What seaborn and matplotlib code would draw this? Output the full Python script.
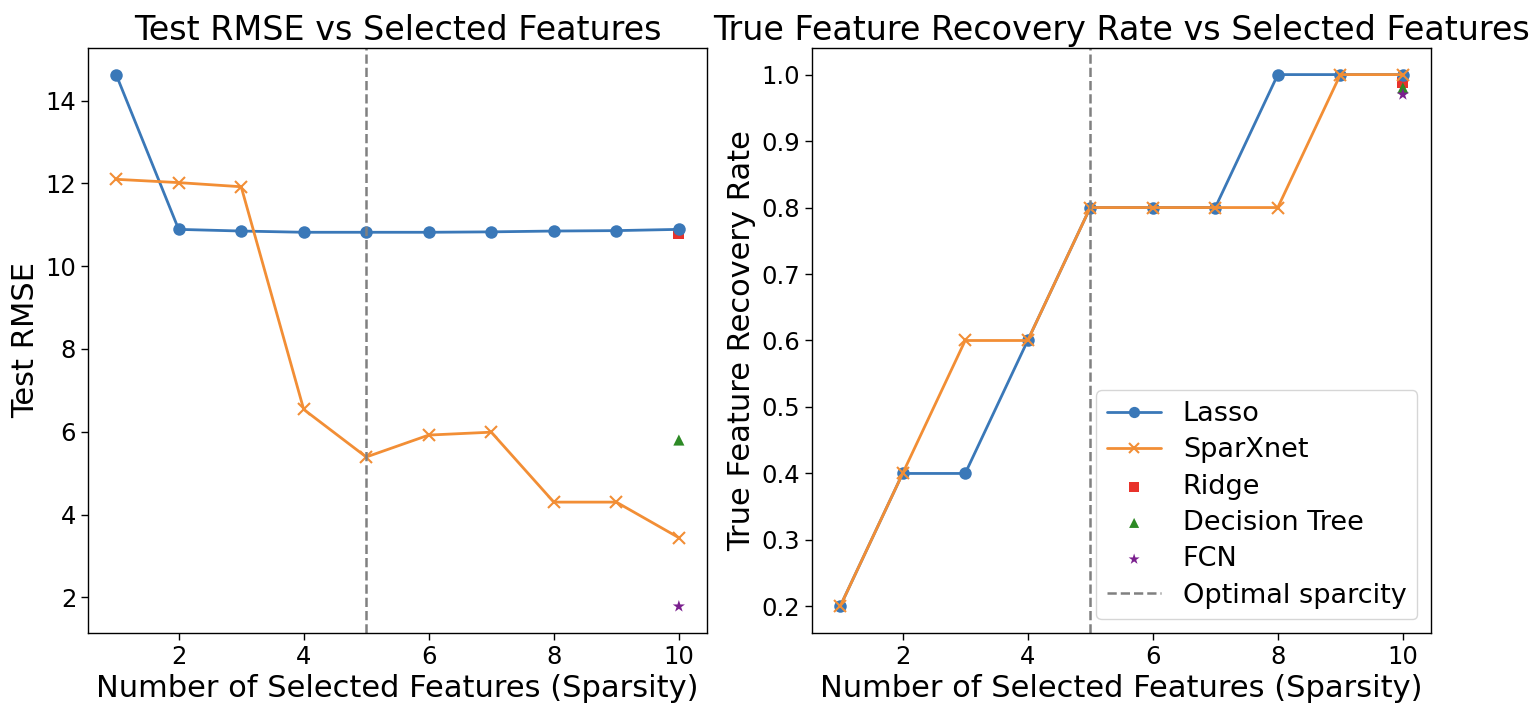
import numpy as np
import pandas as pd
import matplotlib
matplotlib.use("Agg")
import matplotlib.pyplot as plt
import seaborn as sns

sparsity = [1, 2, 3, 4, 5, 6, 7, 8, 9, 10]
lasso_rmse = [14.63, 10.89, 10.85, 10.82, 10.82, 10.82, 10.83, 10.85, 10.86, 10.89]
sparx_rmse = [12.10, 12.02, 11.92, 6.54, 5.39, 5.92, 5.99, 4.30, 4.30, 3.44]
lasso_rec = [0.2, 0.4, 0.4, 0.6, 0.8, 0.8, 0.8, 1.0, 1.0, 1.0]
sparx_rec = [0.2, 0.4, 0.6, 0.6, 0.8, 0.8, 0.8, 0.8, 1.0, 1.0]
baseline_names = ["Ridge", "Decision Tree", "FCN"]
baseline_x = [10, 10, 10]
baseline_rmse = [10.79, 5.80, 1.78]
baseline_rec = [0.988, 0.98, 0.97]
optimal_sparsity = 5

C_LASSO = "#3a78b8"
C_SPARX = "#f28e35"
base_colors = ["#e8322b", "#2d8a25", "#7a1f8e"]
base_markers = ["s", "^", "*"]

sns.set_style("ticks")
plt.rcParams["font.family"] = ["DejaVu Sans"]
for k in ["text.color", "axes.labelcolor", "xtick.color", "ytick.color", "axes.edgecolor"]:
    plt.rcParams[k] = "black"

fig = plt.figure(figsize=(15.38, 7.1), dpi=100)
W, H = 1538, 710
ax1 = fig.add_axes([88 / W, (H - 633) / H, (707 - 88) / W, (633 - 48) / H])
ax2 = fig.add_axes([812 / W, (H - 633) / H, (1431 - 812) / W, (633 - 48) / H])

df = pd.DataFrame({"k": sparsity, "lasso_rmse": lasso_rmse, "sparx_rmse": sparx_rmse,
                   "lasso_rec": lasso_rec, "sparx_rec": sparx_rec})
bdf = pd.DataFrame({"name": baseline_names, "x": baseline_x,
                    "rmse": baseline_rmse, "rec": baseline_rec})

for ax, lcol, scol, bcol in [(ax1, "lasso_rmse", "sparx_rmse", "rmse"),
                             (ax2, "lasso_rec", "sparx_rec", "rec")]:
    sns.lineplot(data=df, x="k", y=lcol, ax=ax, color=C_LASSO, marker="o",
                 markersize=9, markeredgewidth=0, linewidth=2, label="Lasso")
    sns.lineplot(data=df, x="k", y=scol, ax=ax, color=C_SPARX, marker="x",
                 markersize=8.5, markeredgewidth=1.5, markeredgecolor=C_SPARX,
                 linewidth=2, label="SparXnet")
    for i, row in bdf.iterrows():
        sns.scatterplot(x=[row["x"]], y=[row[bcol]], ax=ax, color=base_colors[i],
                        marker=base_markers[i], s=64 if base_markers[i] != "*" else 85,
                        edgecolor="none", label=row["name"])
    ax.axvline(optimal_sparsity, color="gray", linestyle="--", linewidth=1.8,
               label="Optimal sparcity")
    for s in ax.spines.values():
        s.set_visible(True)
        s.set_linewidth(1.0)
        s.set_color("black")
    ax.tick_params(labelsize=17.5, length=5, width=1, colors="black")
    ax.set_xlabel("Number of Selected Features (Sparsity)", fontsize=22)

ax1.set_ylabel("Test RMSE", fontsize=22)
ax1.set_title("Test RMSE vs Selected Features", fontsize=24)
ax2.set_ylabel("True Feature Recovery Rate", fontsize=22)
ax2.set_title("True Feature Recovery Rate vs Selected Features", fontsize=24)

if ax1.get_legend() is not None:
    ax1.get_legend().remove()
ax1.set_xticks([2, 4, 6, 8, 10])
ax2.set_xticks([2, 4, 6, 8, 10])
ax1.set_yticks([2, 4, 6, 8, 10, 12, 14])
ax2.set_yticks([0.2, 0.3, 0.4, 0.5, 0.6, 0.7, 0.8, 0.9, 1.0])

ax2.legend(loc="lower right", fontsize=19.5, frameon=True, labelspacing=0.38,
           markerscale=0.9)

fig.savefig("out.png", dpi=100)
